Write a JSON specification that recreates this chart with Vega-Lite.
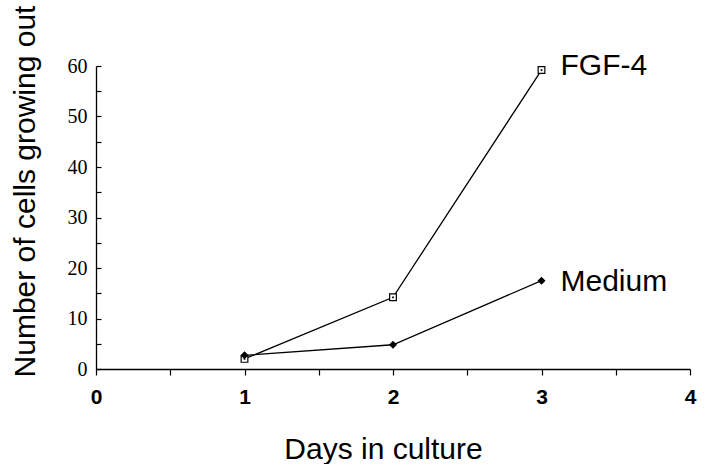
{
  "$schema": "https://vega.github.io/schema/vega-lite/v6.json",
  "autosize": {"type": "none"},
  "padding": {"left": 96, "top": 66, "right": 19, "bottom": 95},
  "width": 594,
  "height": 303,
  "background": "white",
  "config": {"view": {"stroke": null}},
  "data": {
    "values": [
      {"day": 1, "series": "FGF-4", "cells": 2.0},
      {"day": 2, "series": "FGF-4", "cells": 14.2},
      {"day": 3, "series": "FGF-4", "cells": 59.2},
      {"day": 1, "series": "Medium", "cells": 2.7},
      {"day": 2, "series": "Medium", "cells": 4.8},
      {"day": 3, "series": "Medium", "cells": 17.5}
    ]
  },
  "encoding": {
    "x": {
      "field": "day", "type": "quantitative",
      "scale": {"domain": [0, 4], "nice": false, "zero": false},
      "axis": {
        "values": [0, 0.5, 1, 1.5, 2, 2.5, 3, 3.5, 4],
        "labelExpr": "datum.value % 1 === 0 ? format(datum.value, 'd') : ''",
        "grid": false, "tickSize": 6, "tickColor": "black", "tickWidth": 1.2,
        "domainColor": "black", "domainWidth": 1.3,
        "labelFont": "Liberation Sans", "labelFontWeight": "bold", "labelFontSize": 21,
        "labelColor": "black", "labelPadding": 11, "labelFlush": false,
        "title": "Days in culture", "titleFont": "Liberation Sans", "titleFontSize": 30,
        "titleFontWeight": "normal", "titleColor": "black",
        "titleX": 287, "titleY": 89, "titleAlign": "center", "titleBaseline": "alphabetic"
      }
    },
    "y": {
      "field": "cells", "type": "quantitative",
      "scale": {"domain": [0, 60], "nice": false},
      "axis": {
        "values": [0, 5, 10, 15, 20, 25, 30, 35, 40, 45, 50, 55, 60],
        "labelExpr": "datum.value % 10 === 0 ? datum.label : ''",
        "grid": false, "tickSize": -5, "tickColor": "black", "tickWidth": 1.2,
        "domainColor": "black", "domainWidth": 1.3,
        "labelFont": "Liberation Serif", "labelFontSize": 20, "labelColor": "black",
        "labelPadding": 14, "labelFlush": false,
        "title": "Number of cells growing out", "titleFont": "Liberation Sans", "titleFontSize": 30,
        "titleFontWeight": "normal", "titleColor": "black", "titleAngle": -90,
        "titleX": -62, "titleY": 125, "titleAlign": "center", "titleBaseline": "alphabetic"
      }
    }
  },
  "layer": [
    {
      "mark": {"type": "line", "color": "black", "strokeWidth": 1.3},
      "encoding": {"detail": {"field": "series"}}
    },
    {
      "transform": [{"filter": "datum.series === 'FGF-4'"}],
      "mark": {"type": "point", "shape": "square", "filled": true, "fill": "white", "stroke": "black", "strokeWidth": 1.2, "size": 45, "opacity": 1}
    },
    {
      "transform": [{"filter": "datum.series === 'FGF-4'"}],
      "mark": {"type": "point", "shape": "square", "filled": true, "color": "black", "size": 3, "opacity": 1}
    },
    {
      "transform": [{"filter": "datum.series === 'Medium'"}],
      "mark": {"type": "point", "shape": "diamond", "filled": true, "color": "black", "size": 64, "opacity": 1}
    },
    {
      "transform": [{"filter": "datum.series === 'FGF-4' && datum.day === 3"}],
      "mark": {"type": "text", "align": "left", "baseline": "middle", "dx": 19, "dy": -4, "font": "Liberation Sans", "fontSize": 30, "color": "black"},
      "encoding": {"text": {"field": "series"}}
    },
    {
      "transform": [{"filter": "datum.series === 'Medium' && datum.day === 3"}],
      "mark": {"type": "text", "align": "left", "baseline": "middle", "dx": 19, "dy": 1, "font": "Liberation Sans", "fontSize": 30, "color": "black"},
      "encoding": {"text": {"field": "series"}}
    }
  ]
}
